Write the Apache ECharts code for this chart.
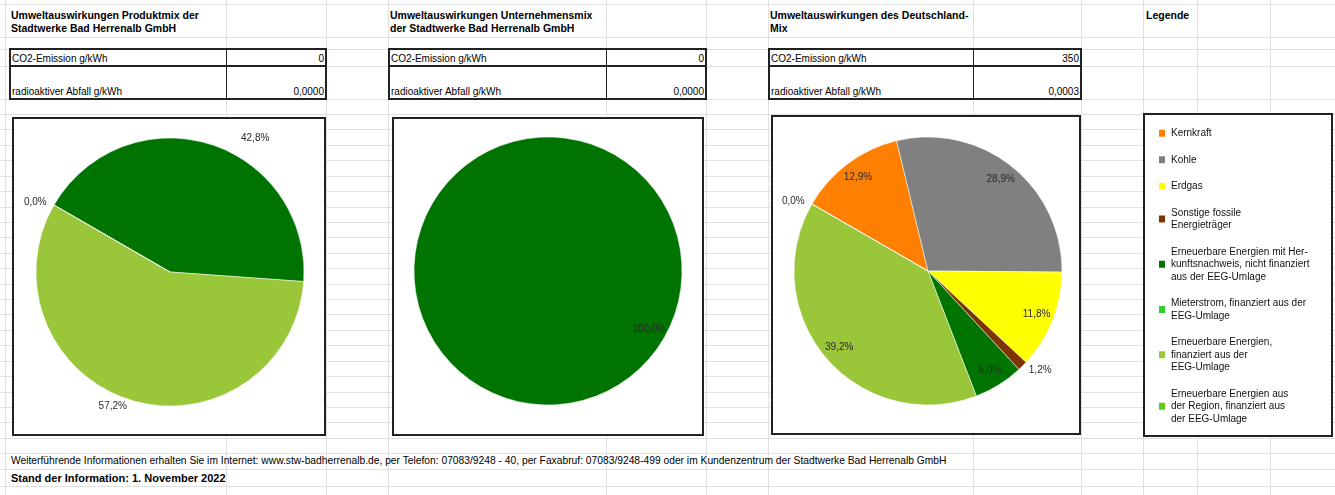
<!DOCTYPE html>
<html>
<head>
<meta charset="utf-8">
<script src="https://cdn.jsdelivr.net/npm/echarts@6/dist/echarts.min.js"></script>
<style>
  body { margin: 0; background: #fff; }
  #page { position: relative; width: 1335px; height: 495px; overflow: hidden; font-family: "Liberation Sans", Arial, sans-serif; color: #000; }
  .gl { position: absolute; background: #e0e0e0; }
  .txt { position: absolute; white-space: nowrap; font-size: 10px; }
  .bold { font-weight: bold; font-size: 10.5px; line-height: 13px; }
  .tbl { position: absolute; box-sizing: border-box; border: 2px solid #222; background: #fff; font-size: 10px; }
  .tbl .row { position: absolute; left: 0; right: 0; box-sizing: border-box; }
  .tbl .lab { position: absolute; left: 1px; bottom: 1px; }
  .tbl .val { position: absolute; right: 1px; bottom: 1px; }
  .box { position: absolute; box-sizing: border-box; border: 2px solid #222; background: #fff; }
  #chart { position: absolute; left: 0; top: 0; width: 1335px; height: 495px; }
</style>
</head>
<body>
<div id="page"><div id="chart"></div></div>
<script>
// categories (same order as the Excel series)
const categories = [
  "Kernkraft",
  "Kohle",
  "Erdgas",
  "Sonstige fossile Energieträger",
  "Erneuerbare Energien mit Herkunftsnachweis, nicht finanziert aus der EEG-Umlage",
  "Mieterstrom, finanziert aus der EEG-Umlage",
  "Erneuerbare Energien, finanziert aus der EEG-Umlage",
  "Erneuerbare Energien aus der Region, finanziert aus der EEG-Umlage",
];
const legendLabels = [
  "Kernkraft",
  "Kohle",
  "Erdgas",
  "Sonstige fossile\nEnergieträger",
  "Erneuerbare Energien mit Her-\nkunftsnachweis, nicht finanziert\naus der EEG-Umlage",
  "Mieterstrom, finanziert aus der\nEEG-Umlage",
  "Erneuerbare Energien,\nfinanziert aus der\nEEG-Umlage",
  "Erneuerbare Energien aus\nder Region, finanziert aus\nder EEG-Umlage",
];
const colors = ["#ff8000", "#808080", "#ffff00", "#7f3300", "#007400", "#30cc30", "#9ac63a", "#62c81a"];

// percent shares, null = empty cell
const produktmix = [null, null, null, null, 42.8, null, 57.2, 0];
const unternehmensmix = [null, null, null, null, 100, null, null, null];
const deutschlandmix = [12.9, 28.9, 11.8, 1.2, 6.0, null, 39.2, 0];

const titles = [
  "Umweltauswirkungen Produktmix der<br>Stadtwerke Bad Herrenalb GmbH",
  "Umweltauswirkungen Unternehmensmix<br>der Stadtwerke Bad Herrenalb GmbH",
  "Umweltauswirkungen des Deutschland-<br>Mix",
];
const co2 = ["0", "0", "350"];
const abfall = ["0,0000", "0,0000", "0,0003"];

// ---- spreadsheet layout ----
const page = document.getElementById("page");
const chartEl = document.getElementById("chart");
function add(cls, style, html) {
  const d = document.createElement("div");
  d.className = cls;
  Object.assign(d.style, style);
  if (html) d.innerHTML = html;
  page.insertBefore(d, chartEl);
  return d;
}

const colLines = [5, 226, 326, 388, 606, 706, 768, 973, 1081, 1143, 1197, 1270];
const rowLines = [4, 37, 49, 66, 99];
for (let y = 114; y < 440; y += 15.42) rowLines.push(Math.round(y));
rowLines.push(453, 469, 486);
colLines.forEach((x) => add("gl", { left: x + "px", top: "0px", width: "1px", height: "495px" }));
rowLines.forEach((y) => add("gl", { left: "0px", top: y + "px", width: "1335px", height: "1px" }));

const blocks = [
  { x: 9, split: 226, right: 327, box: [12, 117, 326, 436] },
  { x: 388, split: 606, right: 707, box: [392, 117, 704, 436] },
  { x: 768, split: 973, right: 1082, box: [771, 115, 1081, 435] },
];
blocks.forEach((b, i) => {
  add("txt bold", { left: b.x + 2 + "px", top: "9px" }, titles[i]);
  const t = add("tbl", { left: b.x + "px", top: "48px", width: b.right - b.x + "px", height: "52px" });
  t.innerHTML =
    '<div class="row" style="top:0;height:17px;border-bottom:2px solid #222"><span class="lab">CO2-Emission g/kWh</span><span class="val">' + co2[i] + "</span></div>" +
    '<div class="row" style="top:17px;bottom:0"><span class="lab">radioaktiver Abfall g/kWh</span><span class="val">' + abfall[i] + "</span></div>" +
    '<div style="position:absolute;top:0;bottom:0;width:1px;background:#222;left:' + (b.split - b.x - 2) + 'px"></div>';
  add("box", { left: b.box[0] + "px", top: b.box[1] + "px", width: b.box[2] - b.box[0] + "px", height: b.box[3] - b.box[1] + "px" });
});
add("txt bold", { left: "1146px", top: "9px" }, "Legende");
add("box", { left: "1143px", top: "113px", width: "190px", height: "324px" });
add("txt", { left: "11px", top: "455px", fontSize: "10.27px" },
  "Weiterführende Informationen erhalten Sie im Internet: www.stw-badherrenalb.de, per Telefon: 07083/9248 - 40, per Faxabruf: 07083/9248-499 oder im Kundenzentrum der Stadtwerke Bad Herrenalb GmbH");
add("txt bold", { left: "11px", top: "472px", fontSize: "11px" }, "Stand der Information: 1. November 2022");

// ---- pies ----
const R = 134;
const pies = [
  { values: produktmix, center: [170, 272], outside: [4, 6, 7], len2: { 4: 28 } },
  { values: unternehmensmix, center: [548, 271], outside: [], len2: {} },
  { values: deutschlandmix, center: [928, 271], outside: [3, 7], len2: {} },
];

function fmtPct(p) {
  return p.percent.toFixed(1).replace(".", ",") + "%";
}

const series = [];
pies.forEach((p) => {
  // filled sectors
  series.push({
    type: "pie",
    center: p.center,
    radius: [0, R],
    startAngle: 150,
    avoidLabelOverlap: false,
    label: { show: false },
    labelLine: { show: false },
    emphasis: { scale: false },
    itemStyle: { borderColor: "#fff", borderWidth: 0.5 },
    data: categories.map((name, i) => ({ name, value: p.values[i], itemStyle: { color: colors[i] } })),
  });
  // transparent ring carrying the data labels
  series.push({
    type: "pie",
    silent: true,
    center: p.center,
    radius: [R * 0.7, R],
    startAngle: 150,
    avoidLabelOverlap: false,
    tooltip: { show: false },
    itemStyle: { color: "rgba(0,0,0,0)" },
    emphasis: { disabled: true },
    data: categories.map((name, i) => {
      const out = p.outside.includes(i);
      return {
        name,
        value: p.values[i],
        label: { position: out ? "outside" : "inside" },
        labelLine: { show: false, length: 6, length2: p.len2[i] || 0 },
      };
    }),
    label: {
      show: true,
      formatter: fmtPct,
      fontSize: 10,
      fontFamily: "Liberation Sans, Arial",
      color: "#2a2a2a",
      distanceToLabelLine: 2,
    },
  });
});

const chart = echarts.init(chartEl);
chart.setOption({
  animation: false,
  tooltip: { trigger: "item", formatter: (p) => p.name + ": " + fmtPct(p) },
  legend: {
    orient: "vertical",
    left: 1152,
    top: 122,
    icon: "rect",
    itemWidth: 8,
    itemHeight: 9,
    itemGap: 14,
    data: categories,
    formatter: (name) => legendLabels[categories.indexOf(name)],
    textStyle: { fontSize: 10, lineHeight: 12.5, color: "#111", fontFamily: "Liberation Sans, Arial" },
  },
  series,
});
</script>
</body>
</html>
